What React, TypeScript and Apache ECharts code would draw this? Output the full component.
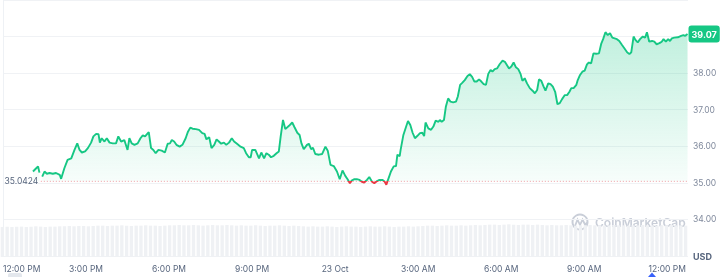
import { useEffect, useRef } from 'react';
import * as echarts from 'echarts';

// minutes since 22 Oct 12:00 PM
const priceTimes = [65,72,76,79,82,85,90,95,101,108,115,123,126,133,140,148,155,161,166,171,178,184,191,196,202,207,210,214,220,225,231,238,245,250,256,263,270,274,279,285,292,298,303,308,316,321,326,331,337,344,351,357,362,366,371,376,383,389,396,401,406,411,418,425,432,437,441,447,452,458,463,468,473,479,484,490,496,501,508,515,522,527,533,537,540,547,555,560,566,571,576,581,587,593,598,602,607,612,620,627,632,638,643,647,652,659,663,668,672,677,685,692,699,704,710,717,724,730,736,742,747,752,756,761,767,773,778,783,789,794,800,805,811,816,823,827,831,836,841,847,852,855,860,862,868,874,878,883,888,893,898,904,909,913,916,922,928,933,938,944,947,951,956,960,965,970,976,982,986,991,996,1001,1007,1012,1017,1022,1027,1032,1037,1042,1047,1052,1057,1061,1066,1071,1077,1083,1088,1091,1097,1102,1107,1112,1117,1122,1126,1131,1136,1142,1148,1153,1158,1162,1167,1172,1176,1182,1187,1192,1197,1202,1207,1212,1218,1223,1228,1232,1237,1243,1246,1251,1256,1261,1266,1270,1275,1280,1286,1292,1297,1301,1306,1311,1316,1321,1326,1331,1336,1342,1347,1353,1358,1362,1367,1371,1376,1381,1387,1392,1396,1401,1407,1412,1417,1423,1428,1432,1437,1442,1446,1450,1455,1463,1470,1475,1479,1484];

const prices = [35.31,35.40,35.45,35.28,null,35.17,35.31,35.25,35.27,35.25,
35.27,35.22,35.11,35.40,35.63,35.67,35.90,36.08,35.90,35.83,
35.86,35.95,36.10,36.27,36.34,36.33,36.10,36.22,36.13,36.22,
36.10,36.08,36.08,36.27,36.13,36.17,35.90,36.22,36.08,36.04,
36.08,36.22,36.30,36.27,36.39,35.95,35.90,35.81,35.90,35.88,
35.83,36.07,36.08,36.17,36.13,36.04,35.99,36.04,36.22,36.40,
36.51,36.48,36.47,36.45,36.36,36.34,36.19,36.25,35.95,36.04,
36.19,36.13,36.07,36.10,36.04,36.10,36.22,36.13,36.06,35.99,
35.95,35.81,35.70,35.70,35.90,35.90,35.67,35.83,35.67,35.81,
35.77,35.70,35.74,35.81,35.86,36.27,36.72,36.47,36.56,36.65,
36.52,36.37,36.31,36.08,35.92,36.04,36.07,35.92,35.96,35.79,
35.77,35.79,35.99,35.88,35.49,35.46,35.31,35.10,35.34,35.19,
35.10,34.99,35.06,35.10,35.10,35.08,35.03,35.01,35.08,35.16,
35.03,34.99,35.05,35.08,35.08,35.04,34.95,35.13,35.31,35.45,
35.46,35.77,35.73,35.90,36.31,36.54,36.69,36.58,36.37,36.22,
36.28,36.36,36.37,36.28,36.65,36.49,36.45,36.54,36.70,36.67,
36.72,36.67,36.72,37.08,37.31,37.22,37.20,37.22,37.36,37.68,
37.74,37.81,37.92,37.97,37.90,37.77,37.77,37.83,37.77,37.70,
37.68,37.98,38.09,38.04,38.11,38.13,38.25,38.34,38.31,38.25,
38.13,38.18,38.29,38.16,38.11,37.98,37.79,37.86,37.72,37.59,
37.52,37.45,37.54,37.83,37.79,37.63,37.52,37.72,37.70,37.63,
37.49,37.15,37.18,37.29,37.40,37.40,37.49,37.59,37.59,37.68,
37.81,37.95,38.04,38.07,38.24,38.29,38.27,38.54,38.53,38.54,
38.81,38.93,39.12,39.04,39.09,38.97,38.95,38.93,38.88,38.77,
38.68,38.57,38.52,38.57,39.00,38.91,38.84,38.93,39.00,38.97,
39.12,38.86,38.88,38.86,38.79,38.82,38.86,38.93,38.86,38.93,
38.88,38.95,38.97,38.98,39.02,39.04,39.02,39.07];

// relative volume per 10-minute slot
const volumes = [91,92,91,92,92,91,92,93,92,91,92,92,93,
93,94,93,94,94,93,94,95,
95,94,95,95,96,95,94,95,95,96,95,95,94,95,96,
96,97,96,96,97,96,95,96,97,96,96,97,96,95,96,
95,95,96,95,94,95,95,96,95,94,95,94,
93,92,93,92,92,93,92,91,92,93,92,92,91,92,93,92,92,93,92,91,92,92,93,92,93,
94,95,95,94,95,96,95,95,96,95,96,97,96,
97,98,98,97,98,99,98,97,98,98,97,98,97,
96,97,96,96,97,96,95,96,96,97,96,96,95,96,97,96,96,95,96,96,97,96,96,95,96,96,97,96,96,95];

const BASELINE = 35.0424;
const BASELINE_LINE_START = 82;
const xTickMinutes = [0, 180, 360, 540, 720, 900, 1080, 1260, 1440];
const xTickLabels = ['12:00 PM', '3:00 PM', '6:00 PM', '9:00 PM', '23 Oct', '3:00 AM', '6:00 AM', '9:00 AM', '12:00 PM'];
const X_MAX = 1485;
const Y_MIN = 33;
const Y_MAX = 40;
const CURRENCY = 'USD';
const WATERMARK = 'CoinMarketCap';

export default function App() {
  const ref = useRef<HTMLDivElement>(null);
  useEffect(() => {
    if (!ref.current) return;
    const chart = echarts.init(ref.current, null, { renderer: 'svg' });
    const last = prices[prices.length - 1] as number;
    const data = priceTimes.map((t, i) => [t, prices[i] === null ? '-' : prices[i]]);
    const wm = '#c9ced8';
    const FS = 8.5;
    chart.setOption({
      animation: false,
      textStyle: { fontFamily: 'Inter, "Noto Sans", sans-serif' },
      grid: [
        { left: 0, right: 37, top: 0, height: 256 },
        { left: 0, right: 37, top: 224, height: 33 },
      ],
      xAxis: [
        {
          type: 'value', gridIndex: 0, min: 0, max: X_MAX, interval: 180,
          axisLine: { show: false }, axisTick: { show: false }, splitLine: { show: false },
          axisLabel: {
            color: '#58667e', fontSize: FS, margin: 8, alignMinLabel: 'left', showMaxLabel: false,
            formatter: (v: number) => { const i = xTickMinutes.indexOf(v); return i >= 0 ? xTickLabels[i] : ''; },
          },
        },
        { type: 'category', gridIndex: 1, data: volumes.map((_, i) => i), show: false, boundaryGap: true },
      ],
      yAxis: [
        {
          type: 'value', gridIndex: 0, position: 'right', min: Y_MIN, max: Y_MAX, interval: 1,
          axisLine: { show: true, lineStyle: { color: '#eef1f5' } },
          axisTick: { show: false },
          splitLine: { lineStyle: { color: '#f0f2f5' } },
          axisLabel: {
            margin: 5, fontSize: FS, color: '#808a9d',
            formatter: (v: number) => v === Y_MIN ? '{u|' + CURRENCY + '}' : (v === Y_MAX || Math.abs(v - last) < 0.4) ? '' : v.toFixed(2),
            rich: { u: { fontWeight: 'bold', color: '#58667e', fontSize: 9 } },
          },
        },
        { type: 'value', gridIndex: 1, min: 0, max: 100, show: false },
      ],
      visualMap: {
        show: false, seriesIndex: 1, dimension: 1,
        pieces: [
          { lt: BASELINE, color: '#ea3943' },
          { gte: BASELINE, lte: Y_MAX, color: '#16c784' },
        ],
        outOfRange: { color: '#16c784' },
      },
      series: [
        {
          type: 'bar', xAxisIndex: 1, yAxisIndex: 1, data: volumes, silent: true,
          itemStyle: { color: '#eff1f4' }, barCategoryGap: '30%', z: 1,
        },
        {
          type: 'line', xAxisIndex: 0, yAxisIndex: 0, data, showSymbol: false, connectNulls: false,
          lineStyle: { width: 1.9 }, z: 3, silent: true,
          areaStyle: {
            origin: BASELINE,
            color: new echarts.graphic.LinearGradient(0, 0, 0, 1, [
              { offset: 0, color: 'rgba(22,199,132,0.38)' },
              { offset: 1, color: 'rgba(22,199,132,0.04)' },
            ]),
          },
        },
        {
          type: 'line', xAxisIndex: 0, yAxisIndex: 0, silent: true, z: 2,
          data: [[BASELINE_LINE_START, BASELINE], [X_MAX, BASELINE]],
          symbol: 'none',
          lineStyle: { color: '#ef9aa0', width: 1, type: [1, 2] },
        },
        {
          type: 'scatter', xAxisIndex: 0, yAxisIndex: 0, silent: true, z: 5, clip: false,
          symbolSize: 1,
          itemStyle: { color: 'rgba(0,0,0,0)', opacity: 1 },
          data: [
            {
              value: [BASELINE_LINE_START, BASELINE],
              label: { show: true, position: 'left', distance: 2, formatter: String(BASELINE), color: '#58667e', fontSize: FS, opacity: 1 },
            },
            {
              value: [X_MAX, last],
              label: {
                show: true, position: 'right', distance: 0, formatter: last.toFixed(2), opacity: 1,
                backgroundColor: '#16c784', color: '#fff', fontWeight: 'bold', fontSize: 9,
                padding: [4, 3, 4, 3], borderRadius: 3,
              },
            },
          ],
        },
      ],
      graphic: [
        { type: 'circle', silent: true, shape: { cx: 580, cy: 222, r: 7.5 }, style: { fill: 'none', stroke: wm, lineWidth: 2 } },
        { type: 'polyline', silent: true, shape: { points: [[575, 226], [577.5, 219.5], [580, 225], [582.5, 219.5], [585, 224.5], [587.5, 222.5]] }, style: { stroke: wm, lineWidth: 1.8, fill: 'none' } },
        { type: 'text', silent: true, x: 595, y: 222, style: { text: WATERMARK, fill: wm, font: '600 12px Inter, sans-serif', verticalAlign: 'middle' } },
        { type: 'rect', silent: true, shape: { x: 8, y: 273, width: 14, height: 6, r: 2 }, style: { fill: '#e3e7ed' } },
        { type: 'polygon', silent: true, shape: { points: [[648, 277], [652, 272.5], [656, 277]] }, style: { fill: '#3861fb' } },
      ],
    });
    return () => chart.dispose();
  }, []);
  return <div ref={ref} style={{ position: 'fixed', left: 0, top: 0, width: 725, height: 277 }} />;
}
